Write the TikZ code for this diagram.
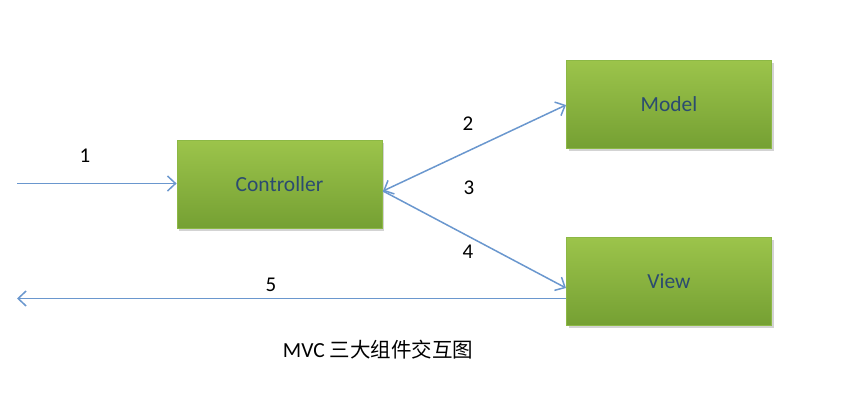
\documentclass[tikz,border=0pt]{standalone}
\usepackage{fontspec}
\setmainfont{Carlito}
\newfontfamily\cjk{Noto Sans CJK SC}
\usetikzlibrary{arrows.meta,shadows}
\definecolor{gtop}{HTML}{9CC44B}
\definecolor{gbot}{HTML}{75A033}
\definecolor{gline}{HTML}{8CB845}
\definecolor{btxt}{HTML}{2B4B70}
\definecolor{arr}{HTML}{6A97CE}
\tikzset{
  x=1pt,y=-1pt,
  mvcbox/.style={draw=gline, line width=0.8pt, top color=gtop, bottom color=gbot,
    minimum width=205pt, minimum height=88pt, inner sep=0pt,
    font=\fontsize{21.5}{26}\selectfont, text=btxt,
    drop shadow={shadow xshift=2pt, shadow yshift=-3pt, opacity=0.35, fill=gray}},
  tip/.style={Straight Barb[length=8pt,width=15pt,line width=1.5pt]},
  conn/.style={draw=arr, line width=1.5pt, -{Straight Barb[length=8pt,width=15pt,line width=1.5pt]}},
  num/.style={font=\fontsize{21}{26}\selectfont, text=black},
}
\begin{document}
\begin{tikzpicture}
\useasboundingbox (0,0) rectangle (850,408);
\node[mvcbox] (ctrl) at (279.5,184) {Controller};
\node[mvcbox] (model) at (669,104) {Model};
\node[mvcbox] (view) at (669,281) {View};
\coordinate (in) at (17,183.5);
\coordinate (out) at (17,298.5);
\coordinate (cr) at (383,191);
\coordinate (ml) at (566,105);
\coordinate (vl) at (566,288);
\coordinate (vb) at (566,298.5);
\draw[conn] (in) -- (ctrl.west |- in);
\draw[draw=arr, line width=1.5pt, {Straight Barb[length=8pt,width=15pt,line width=1.5pt]}-{Straight Barb[length=8pt,width=15pt,line width=1.5pt]}] (cr) -- (ml);
\draw[conn] (cr) -- (vl);
\draw[conn] (vb) -- (out);
\node[num] (n1) at (85,156) {1};
\node[num] (n2) at (468,124) {2};
\node[num] (n3) at (469,188) {3};
\node[num] (n4) at (468,252) {4};
\node[num] (n5) at (271,285) {5};
\node[font=\fontsize{21.5}{26}\selectfont, text=black] (cap) at (378,350) {MVC {\cjk\fontsize{20.5}{26}\selectfont 三大组件交互图}};
\end{tikzpicture}
\end{document}
